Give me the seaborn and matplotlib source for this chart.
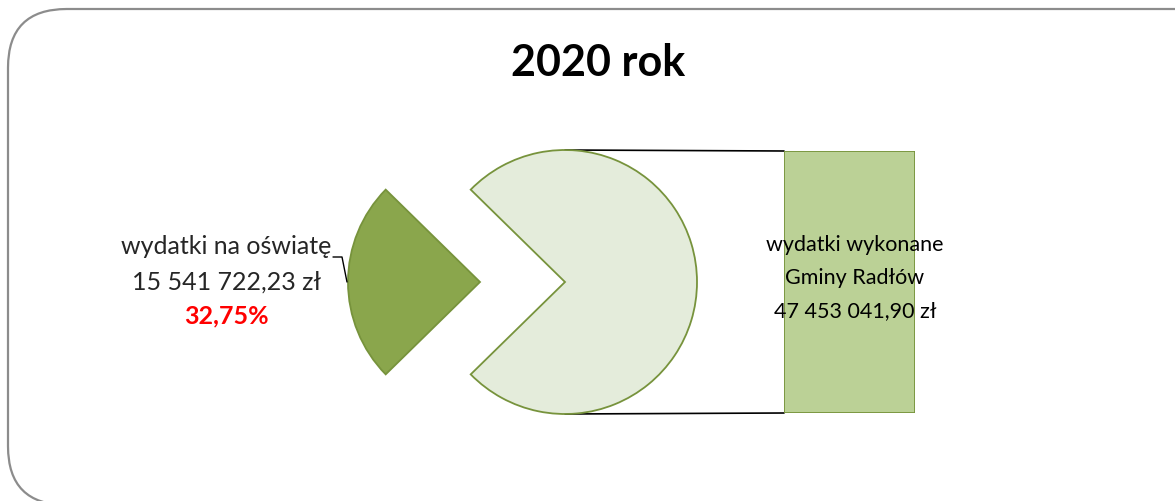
import numpy as np
import matplotlib
matplotlib.use("Agg")
import matplotlib.pyplot as plt
import seaborn as sns
import pandas as pd
from matplotlib.patches import FancyBboxPatch

sns.set_theme(style="white")
plt.rcParams["font.family"] = ["Lato", "DejaVu Sans"]

# data
categories = ["wydatki na oświatę", "wydatki wykonane", "Gminy Radłów"]
values = [15541722.23, 47453041.90]
value_labels = ["15 541 722,23 zł", "47 453 041,90 zł"]
share_label = "32,75%"
title = "2020 rok"

W, H = 1175, 502
fig = plt.figure(figsize=(W / 100, H / 100), dpi=100)

# rounded frame (runs off the right and bottom edge)
frame = FancyBboxPatch((8 / W, -4 / H), 1.2, (H - 10 + 4) / H,
                       boxstyle="round,pad=0,rounding_size=0.05",
                       transform=fig.transFigure, fill=False,
                       edgecolor="#8c8c8c", linewidth=1.6, mutation_aspect=W / H)
fig.patches.append(frame)

# main axes in pixel coordinates (y up)
ax = fig.add_axes([0, 0, 1, 1])

cx, cy, r = 565, H - 283, 132
frac = values[0] / sum(values)
ax.pie(values, center=(cx, cy), radius=r, startangle=180 - frac * 180,
       explode=[85, 0], colors=["#8aa64c", "#e4ecdb"],
       wedgeprops=dict(edgecolor="#77933c", linewidth=1.3), frame=True)
ax.set_xlim(0, W)
ax.set_ylim(0, H)
ax.set_aspect("equal")
ax.axis("off")

# bar for the large slice
bx0, bx1, by0, by1 = 784, 915, H - 414, H - 152
bax = fig.add_axes([bx0 / W, by0 / H, (bx1 - bx0) / W, (by1 - by0) / H])
df = pd.DataFrame({"k": [categories[1]], "v": [values[1]]})
sns.barplot(data=df, x="k", y="v", ax=bax, width=1, color="#bbd196",
            saturation=1, edgecolor="#77933c", linewidth=1.3)
bax.set_xlim(-0.5, 0.5)
bax.set_ylim(0, values[1])
bax.axis("off")

# connector lines
ax.plot([cx, bx0], [cy + r, by1], color="black", lw=1.2, zorder=0)
ax.plot([cx, bx0], [cy - r, by0], color="black", lw=1.2, zorder=0)

# labels
ax.text(598, H - 63, title, ha="center", va="center", fontsize=31,
        fontweight="bold", color="black")
ax.text(226, H - 247, categories[0], ha="center", va="center", fontsize=18)
ax.text(226, H - 282, value_labels[0], ha="center", va="center", fontsize=18)
ax.text(226, H - 316, share_label, ha="center", va="center", fontsize=18,
        fontweight="bold", color="#ff0000")
ax.plot([333, 342, 347], [H - 258, H - 258, H - 283], color="black", lw=1)
for i, line in enumerate([categories[1], categories[2], value_labels[1]]):
    fig.text(855 / W, 1 - (245 + 33 * i) / H, line, ha="center", va="center",
             fontsize=15.5, color="black")

fig.savefig("out.png", dpi=100)
